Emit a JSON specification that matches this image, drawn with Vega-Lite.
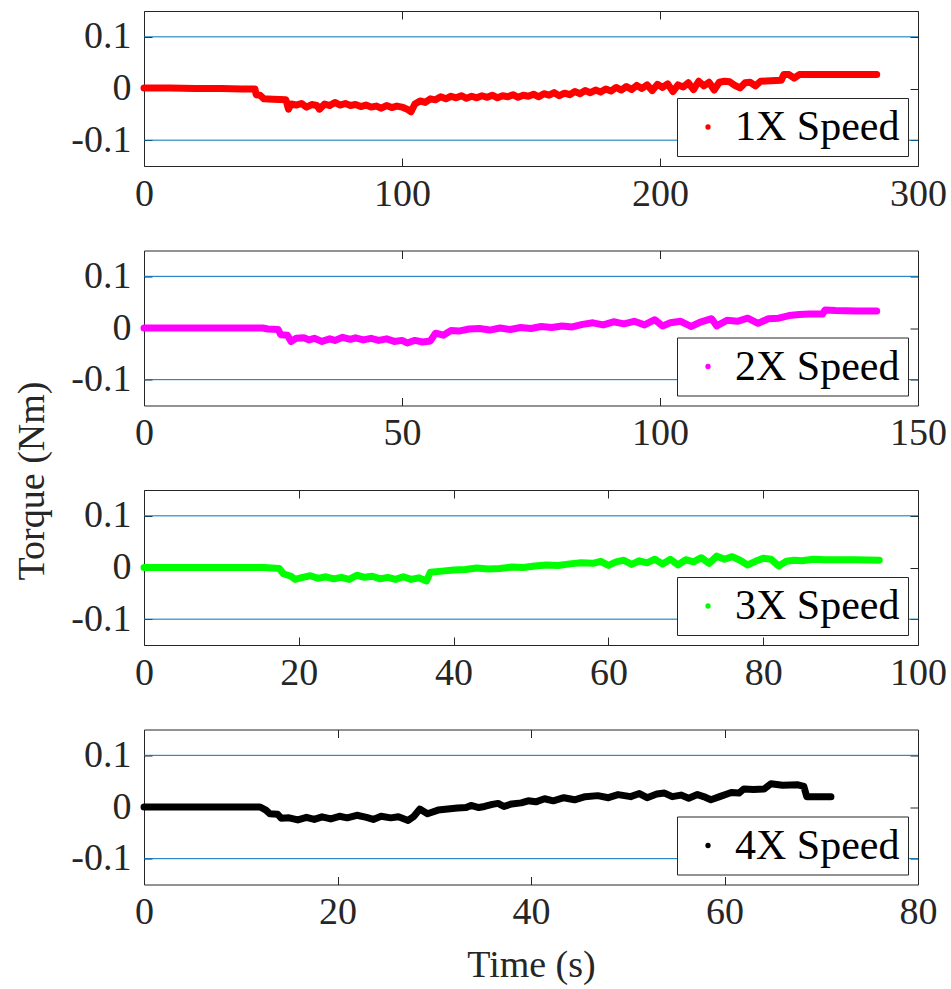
{
  "$schema": "https://vega.github.io/schema/vega-lite/v6.json",
  "background": "white",
  "padding": {"left": 12, "top": 10, "right": 0, "bottom": 0},
  "config": {
    "font": "Liberation Serif",
    "view": {"stroke": "#262626", "strokeWidth": 1},
    "axis": {
      "labelFont": "Liberation Serif", "labelFontSize": 38, "labelColor": "#262626",
      "tickColor": "#262626", "tickSize": -8, "labelPadding": 21, "domain": false, "grid": false,
      "labelFlush": false, "labelOverlap": false,
      "titleFont": "Liberation Serif", "titleFontSize": 38, "titleFontWeight": "normal", "titleColor": "#262626"
    },
    "axisX": {"labelPadding": 17},
    "legend": {
      "orient": "bottom-right", "offset": 10, "title": null,
      "labelFont": "Liberation Serif", "labelFontSize": 42, "labelColor": "#000000", "labelLimit": 400,
      "strokeColor": "#262626", "fillColor": "white", "padding": 8,
      "symbolType": "circle", "symbolSize": 8, "symbolStrokeWidth": 5,
      "symbolOffset": 2, "labelOffset": 6
    },
    "concat": {"spacing": 84.5}
  },
  "bounds": "flush",
  "spacing": 84.5,
  "datasets": {
    "p1": [
      {"t":0,"v":0.001},{"t":10,"v":0.001},{"t":20,"v":0.0},{"t":30,"v":0.0},{"t":38,"v":-0.001},{"t":43,"v":-0.001},
      {"t":43.5,"v":-0.012},{"t":45,"v":-0.013},{"t":46.5,"v":-0.02},{"t":50,"v":-0.021},{"t":55,"v":-0.022},
      {"t":56,"v":-0.04},{"t":57,"v":-0.03},{"t":59,"v":-0.032},{"t":61,"v":-0.029},{"t":63,"v":-0.036},
      {"t":65,"v":-0.031},{"t":67,"v":-0.033},{"t":68,"v":-0.04},{"t":70,"v":-0.03},{"t":72,"v":-0.033},
      {"t":74,"v":-0.027},{"t":76,"v":-0.032},{"t":78,"v":-0.029},{"t":80,"v":-0.033},{"t":82,"v":-0.031},
      {"t":84,"v":-0.035},{"t":86,"v":-0.032},{"t":88,"v":-0.036},{"t":90,"v":-0.034},{"t":92,"v":-0.038},
      {"t":94,"v":-0.033},{"t":96,"v":-0.037},{"t":98,"v":-0.034},{"t":100,"v":-0.036},{"t":102,"v":-0.04},
      {"t":103.5,"v":-0.045},{"t":105,"v":-0.03},{"t":107,"v":-0.024},{"t":109,"v":-0.027},{"t":111,"v":-0.02},
      {"t":113,"v":-0.022},{"t":115,"v":-0.016},{"t":117,"v":-0.02},{"t":119,"v":-0.015},{"t":121,"v":-0.018},
      {"t":123,"v":-0.014},{"t":125,"v":-0.019},{"t":127,"v":-0.015},{"t":129,"v":-0.018},{"t":131,"v":-0.014},
      {"t":133,"v":-0.017},{"t":135,"v":-0.013},{"t":137,"v":-0.018},{"t":139,"v":-0.014},{"t":141,"v":-0.016},
      {"t":143,"v":-0.012},{"t":145,"v":-0.017},{"t":147,"v":-0.013},{"t":149,"v":-0.015},{"t":151,"v":-0.011},
      {"t":153,"v":-0.016},{"t":155,"v":-0.01},{"t":157,"v":-0.013},{"t":159,"v":-0.008},{"t":161,"v":-0.014},
      {"t":163,"v":-0.009},{"t":165,"v":-0.012},{"t":167,"v":-0.006},{"t":169,"v":-0.01},{"t":171,"v":-0.004},
      {"t":173,"v":-0.008},{"t":175,"v":-0.003},{"t":177,"v":-0.007},{"t":179,"v":-0.001},{"t":181,"v":-0.005},
      {"t":183,"v":0.002},{"t":185,"v":-0.003},{"t":187,"v":0.004},{"t":189,"v":-0.002},{"t":191,"v":0.006},
      {"t":193,"v":0.0},{"t":195,"v":0.007},{"t":197,"v":-0.004},{"t":199,"v":0.008},{"t":201,"v":0.002},
      {"t":203,"v":0.009},{"t":205,"v":-0.006},{"t":207,"v":0.007},{"t":209,"v":0.003},{"t":211,"v":0.011},
      {"t":213,"v":-0.002},{"t":215,"v":0.014},{"t":217,"v":0.005},{"t":219,"v":0.012},{"t":221,"v":-0.003},
      {"t":223,"v":0.012},{"t":225,"v":0.014},{"t":227,"v":0.013},{"t":229,"v":0.006},{"t":231,"v":0.001},
      {"t":233,"v":0.011},{"t":235,"v":0.012},{"t":237,"v":0.005},{"t":239,"v":0.014},{"t":243,"v":0.015},
      {"t":247,"v":0.016},{"t":248,"v":0.027},{"t":250,"v":0.027},{"t":252,"v":0.02},{"t":254,"v":0.027},
      {"t":260,"v":0.027},{"t":270,"v":0.027},{"t":284,"v":0.027}
    ],
    "p2": [
      {"t":0,"v":0.0},{"t":10,"v":0.0},{"t":20,"v":0.0},{"t":23,"v":0.0},{"t":24,"v":-0.002},{"t":26,"v":-0.003},
      {"t":26.5,"v":-0.013},{"t":27.8,"v":-0.014},{"t":28.5,"v":-0.026},{"t":29.5,"v":-0.02},{"t":31,"v":-0.019},
      {"t":32,"v":-0.023},{"t":33,"v":-0.02},{"t":34.5,"v":-0.026},{"t":36,"v":-0.021},{"t":37,"v":-0.024},
      {"t":38.5,"v":-0.018},{"t":40,"v":-0.022},{"t":41,"v":-0.019},{"t":42.5,"v":-0.023},{"t":44,"v":-0.02},
      {"t":45.5,"v":-0.024},{"t":47,"v":-0.021},{"t":48.5,"v":-0.026},{"t":50,"v":-0.024},{"t":51,"v":-0.029},
      {"t":52.5,"v":-0.024},{"t":54,"v":-0.027},{"t":55.5,"v":-0.025},{"t":56.5,"v":-0.01},{"t":58,"v":-0.014},
      {"t":59.5,"v":-0.005},{"t":61,"v":-0.006},{"t":63,"v":-0.002},{"t":65,"v":-0.001},{"t":67,"v":-0.004},
      {"t":69,"v":0.0},{"t":71,"v":-0.003},{"t":73,"v":0.001},{"t":75,"v":-0.001},{"t":77,"v":0.003},
      {"t":79,"v":0.001},{"t":81,"v":0.004},{"t":83,"v":0.002},{"t":85,"v":0.007},{"t":87,"v":0.01},
      {"t":89,"v":0.006},{"t":91,"v":0.012},{"t":93,"v":0.008},{"t":95,"v":0.013},{"t":97,"v":0.006},
      {"t":99,"v":0.016},{"t":100.5,"v":0.004},{"t":102,"v":0.01},{"t":104,"v":0.013},{"t":106,"v":0.003},
      {"t":108,"v":0.012},{"t":110,"v":0.018},{"t":111,"v":0.004},{"t":113,"v":0.015},{"t":115,"v":0.013},
      {"t":117,"v":0.019},{"t":119,"v":0.009},{"t":121,"v":0.018},{"t":123,"v":0.019},{"t":125,"v":0.024},
      {"t":127,"v":0.026},{"t":129,"v":0.027},{"t":131.5,"v":0.027},{"t":132,"v":0.035},{"t":134,"v":0.034},
      {"t":138,"v":0.033},{"t":142,"v":0.033}
    ],
    "p3": [
      {"t":0,"v":0.0},{"t":10,"v":0.0},{"t":15.5,"v":0.0},{"t":17.5,"v":-0.002},{"t":18,"v":-0.012},{"t":19,"v":-0.017},
      {"t":19.5,"v":-0.023},{"t":20.5,"v":-0.019},{"t":21.5,"v":-0.016},{"t":22.5,"v":-0.021},{"t":23.5,"v":-0.018},
      {"t":24.5,"v":-0.022},{"t":25.5,"v":-0.019},{"t":26.5,"v":-0.023},{"t":27.5,"v":-0.015},{"t":28.5,"v":-0.019},
      {"t":29.5,"v":-0.017},{"t":30.5,"v":-0.022},{"t":31.5,"v":-0.019},{"t":32.5,"v":-0.023},{"t":33.5,"v":-0.018},
      {"t":34.5,"v":-0.023},{"t":35.5,"v":-0.02},{"t":36.5,"v":-0.026},{"t":37,"v":-0.009},{"t":38.5,"v":-0.007},
      {"t":40,"v":-0.005},{"t":41.5,"v":-0.004},{"t":43,"v":-0.001},{"t":44.5,"v":-0.003},{"t":46,"v":-0.002},
      {"t":47.5,"v":0.001},{"t":49,"v":0.0},{"t":50.5,"v":0.003},{"t":52,"v":0.005},{"t":53.5,"v":0.004},
      {"t":55,"v":0.007},{"t":56.5,"v":0.009},{"t":58,"v":0.008},{"t":59,"v":0.012},{"t":60,"v":0.004},
      {"t":61,"v":0.011},{"t":62,"v":0.014},{"t":63,"v":0.006},{"t":64,"v":0.013},{"t":65,"v":0.009},
      {"t":66,"v":0.016},{"t":67,"v":0.007},{"t":68,"v":0.016},{"t":69,"v":0.005},{"t":70,"v":0.015},
      {"t":71,"v":0.011},{"t":72,"v":0.019},{"t":73,"v":0.008},{"t":74,"v":0.022},{"t":75,"v":0.016},
      {"t":76,"v":0.021},{"t":77,"v":0.014},{"t":78,"v":0.005},{"t":79,"v":0.012},{"t":80,"v":0.018},
      {"t":81,"v":0.016},{"t":82,"v":0.003},{"t":83,"v":0.012},{"t":84,"v":0.014},{"t":85,"v":0.013},
      {"t":86.5,"v":0.016},{"t":88,"v":0.015},{"t":90,"v":0.015},{"t":92,"v":0.015},{"t":95,"v":0.014}
    ],
    "p4": [
      {"t":0,"v":0.0},{"t":6,"v":0.0},{"t":12,"v":0.0},{"t":12.6,"v":-0.006},{"t":13,"v":-0.013},{"t":13.8,"v":-0.014},
      {"t":14.2,"v":-0.022},{"t":15,"v":-0.021},{"t":15.9,"v":-0.025},{"t":16.8,"v":-0.02},{"t":17.6,"v":-0.024},
      {"t":18.4,"v":-0.019},{"t":19.3,"v":-0.023},{"t":20.2,"v":-0.018},{"t":21,"v":-0.021},{"t":22,"v":-0.016},
      {"t":23,"v":-0.02},{"t":23.7,"v":-0.024},{"t":24.5,"v":-0.018},{"t":25.5,"v":-0.021},{"t":26.3,"v":-0.019},
      {"t":27.3,"v":-0.026},{"t":27.9,"v":-0.018},{"t":28.5,"v":-0.004},{"t":29.3,"v":-0.013},{"t":30.4,"v":-0.006},
      {"t":31.4,"v":-0.004},{"t":32.4,"v":-0.002},{"t":33.3,"v":-0.001},{"t":33.8,"v":0.003},{"t":34.6,"v":-0.001},
      {"t":35.2,"v":0.001},{"t":36,"v":0.005},{"t":36.6,"v":0.007},{"t":37.2,"v":0.001},{"t":38,"v":0.006},
      {"t":39,"v":0.008},{"t":39.7,"v":0.012},{"t":40.5,"v":0.01},{"t":41.4,"v":0.016},{"t":42.3,"v":0.012},
      {"t":43.4,"v":0.018},{"t":44.5,"v":0.014},{"t":45.6,"v":0.02},{"t":46.9,"v":0.022},{"t":48,"v":0.018},
      {"t":49,"v":0.024},{"t":50.3,"v":0.02},{"t":51.2,"v":0.026},{"t":52,"v":0.018},{"t":53,"v":0.025},
      {"t":53.8,"v":0.027},{"t":54.6,"v":0.02},{"t":55.5,"v":0.023},{"t":56.3,"v":0.017},{"t":57.2,"v":0.024},
      {"t":58,"v":0.019},{"t":58.6,"v":0.014},{"t":59.5,"v":0.02},{"t":60.7,"v":0.028},{"t":61.5,"v":0.027},
      {"t":62,"v":0.035},{"t":63,"v":0.034},{"t":64.1,"v":0.035},{"t":64.8,"v":0.045},{"t":66,"v":0.042},
      {"t":67.6,"v":0.043},{"t":68.2,"v":0.04},{"t":68.5,"v":0.02},{"t":70,"v":0.02},{"t":71,"v":0.02}
    ],
    "refs": [{"ref": 0.1}, {"ref": -0.1}],
    "anchor": [{"t": 0, "v": 0}]
  },
  "vconcat": [
    {
      "width": 774, "height": 155,
      "layer": [
        {"data": {"name": "refs"}, "mark": {"type": "rule", "color": "#0072BD", "strokeWidth": 1},
         "encoding": {"y": {"field": "ref", "type": "quantitative", "scale": {"domain": [-0.15, 0.15], "nice": false, "zero": false}, "axis": null}}},
        {"data": {"name": "p1"}, "mark": {"type": "line", "strokeWidth": 7, "strokeJoin": "round", "strokeCap": "round"},
         "encoding": {
           "x": {"field": "t", "type": "quantitative", "scale": {"domain": [0, 300], "nice": false}, "axis": {"orient": "bottom", "values": [0, 100, 200, 300], "title": null}},
           "y": {"field": "v", "type": "quantitative", "scale": {"domain": [-0.15, 0.15], "nice": false, "zero": false}, "axis": {"orient": "left", "values": [-0.1, 0, 0.1], "format": ".1~f", "title": null, "labelExpr": "replace(datum.label, '\u2212', '-')"}},
           "color": {"datum": "1X Speed", "scale": {"domain": ["1X Speed"], "range": ["#FF0000"]},
             "legend": {"encode": {"symbols": {"update": {"fill": {"value": "#FF0000"}, "stroke": {"value": "transparent"}, "strokeWidth": {"value": 0}, "size": {"value": 28}}}}}}
         }},
        {"data": {"name": "anchor"}, "mark": {"type": "point", "opacity": 0},
         "encoding": {
           "x": {"field": "t", "type": "quantitative", "scale": {"domain": [0, 300], "nice": false}, "axis": {"orient": "top", "values": [0, 100, 200, 300], "labels": false, "title": null}},
           "y": {"field": "v", "type": "quantitative", "scale": {"domain": [-0.15, 0.15], "nice": false, "zero": false}, "axis": {"orient": "right", "values": [-0.1, 0, 0.1], "labels": false, "title": null}}
         }}
      ],
      "resolve": {"axis": {"x": "independent", "y": "independent"}}
    },
    {
      "width": 774, "height": 155,
      "layer": [
        {"data": {"name": "refs"}, "mark": {"type": "rule", "color": "#0072BD", "strokeWidth": 1},
         "encoding": {"y": {"field": "ref", "type": "quantitative", "scale": {"domain": [-0.15, 0.15], "nice": false, "zero": false}, "axis": null}}},
        {"data": {"name": "p2"}, "mark": {"type": "line", "strokeWidth": 7, "strokeJoin": "round", "strokeCap": "round"},
         "encoding": {
           "x": {"field": "t", "type": "quantitative", "scale": {"domain": [0, 150], "nice": false}, "axis": {"orient": "bottom", "values": [0, 50, 100, 150], "title": null}},
           "y": {"field": "v", "type": "quantitative", "scale": {"domain": [-0.15, 0.15], "nice": false, "zero": false}, "axis": {"orient": "left", "values": [-0.1, 0, 0.1], "format": ".1~f", "title": "Torque (Nm)", "titleX": -112, "titleY": 230, "titleAngle": 270, "titleAlign": "center", "titleBaseline": "middle", "labelExpr": "replace(datum.label, '\u2212', '-')"}},
           "color": {"datum": "2X Speed", "scale": {"domain": ["2X Speed"], "range": ["#FF00FF"]},
             "legend": {"encode": {"symbols": {"update": {"fill": {"value": "#FF00FF"}, "stroke": {"value": "transparent"}, "strokeWidth": {"value": 0}, "size": {"value": 28}}}}}}
         }},
        {"data": {"name": "anchor"}, "mark": {"type": "point", "opacity": 0},
         "encoding": {
           "x": {"field": "t", "type": "quantitative", "scale": {"domain": [0, 150], "nice": false}, "axis": {"orient": "top", "values": [0, 50, 100, 150], "labels": false, "title": null}},
           "y": {"field": "v", "type": "quantitative", "scale": {"domain": [-0.15, 0.15], "nice": false, "zero": false}, "axis": {"orient": "right", "values": [-0.1, 0, 0.1], "labels": false, "title": null}}
         }}
      ],
      "resolve": {"axis": {"x": "independent", "y": "independent"}}
    },
    {
      "width": 774, "height": 155,
      "layer": [
        {"data": {"name": "refs"}, "mark": {"type": "rule", "color": "#0072BD", "strokeWidth": 1},
         "encoding": {"y": {"field": "ref", "type": "quantitative", "scale": {"domain": [-0.15, 0.15], "nice": false, "zero": false}, "axis": null}}},
        {"data": {"name": "p3"}, "mark": {"type": "line", "strokeWidth": 7, "strokeJoin": "round", "strokeCap": "round"},
         "encoding": {
           "x": {"field": "t", "type": "quantitative", "scale": {"domain": [0, 100], "nice": false}, "axis": {"orient": "bottom", "values": [0, 20, 40, 60, 80, 100], "title": null}},
           "y": {"field": "v", "type": "quantitative", "scale": {"domain": [-0.15, 0.15], "nice": false, "zero": false}, "axis": {"orient": "left", "values": [-0.1, 0, 0.1], "format": ".1~f", "title": null, "labelExpr": "replace(datum.label, '\u2212', '-')"}},
           "color": {"datum": "3X Speed", "scale": {"domain": ["3X Speed"], "range": ["#00FF00"]},
             "legend": {"encode": {"symbols": {"update": {"fill": {"value": "#00FF00"}, "stroke": {"value": "transparent"}, "strokeWidth": {"value": 0}, "size": {"value": 28}}}}}}
         }},
        {"data": {"name": "anchor"}, "mark": {"type": "point", "opacity": 0},
         "encoding": {
           "x": {"field": "t", "type": "quantitative", "scale": {"domain": [0, 100], "nice": false}, "axis": {"orient": "top", "values": [0, 20, 40, 60, 80, 100], "labels": false, "title": null}},
           "y": {"field": "v", "type": "quantitative", "scale": {"domain": [-0.15, 0.15], "nice": false, "zero": false}, "axis": {"orient": "right", "values": [-0.1, 0, 0.1], "labels": false, "title": null}}
         }}
      ],
      "resolve": {"axis": {"x": "independent", "y": "independent"}}
    },
    {
      "width": 774, "height": 155,
      "layer": [
        {"data": {"name": "refs"}, "mark": {"type": "rule", "color": "#0072BD", "strokeWidth": 1},
         "encoding": {"y": {"field": "ref", "type": "quantitative", "scale": {"domain": [-0.15, 0.15], "nice": false, "zero": false}, "axis": null}}},
        {"data": {"name": "p4"}, "mark": {"type": "line", "strokeWidth": 7, "strokeJoin": "round", "strokeCap": "round"},
         "encoding": {
           "x": {"field": "t", "type": "quantitative", "scale": {"domain": [0, 80], "nice": false}, "axis": {"orient": "bottom", "values": [0, 20, 40, 60, 80], "title": "Time (s)", "titleY": 92, "titleBaseline": "alphabetic"}},
           "y": {"field": "v", "type": "quantitative", "scale": {"domain": [-0.15, 0.15], "nice": false, "zero": false}, "axis": {"orient": "left", "values": [-0.1, 0, 0.1], "format": ".1~f", "title": null, "labelExpr": "replace(datum.label, '\u2212', '-')"}},
           "color": {"datum": "4X Speed", "scale": {"domain": ["4X Speed"], "range": ["#000000"]},
             "legend": {"encode": {"symbols": {"update": {"fill": {"value": "#000000"}, "stroke": {"value": "transparent"}, "strokeWidth": {"value": 0}, "size": {"value": 28}}}}}}
         }},
        {"data": {"name": "anchor"}, "mark": {"type": "point", "opacity": 0},
         "encoding": {
           "x": {"field": "t", "type": "quantitative", "scale": {"domain": [0, 80], "nice": false}, "axis": {"orient": "top", "values": [0, 20, 40, 60, 80], "labels": false, "title": null}},
           "y": {"field": "v", "type": "quantitative", "scale": {"domain": [-0.15, 0.15], "nice": false, "zero": false}, "axis": {"orient": "right", "values": [-0.1, 0, 0.1], "labels": false, "title": null}}
         }}
      ],
      "resolve": {"axis": {"x": "independent", "y": "independent"}}
    }
  ],
  "resolve": {"scale": {"color": "independent", "x": "independent"}, "legend": {"color": "independent"}}
}
